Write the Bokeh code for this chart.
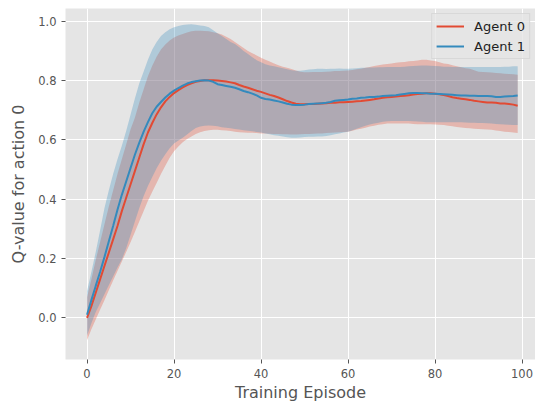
from bokeh.plotting import figure
from bokeh.embed import file_html
from bokeh.resources import INLINE
from bokeh.models import FixedTicker, PrintfTickFormatter, Range1d, Legend, LegendItem

episodes = list(range(100))

agent0_mean = [0.000, 0.040, 0.085, 0.130, 0.175, 0.220, 0.265, 0.310, 0.360, 0.405,
               0.450, 0.495, 0.540, 0.585, 0.625, 0.657, 0.686, 0.710, 0.730, 0.745,
               0.758, 0.768, 0.777, 0.785, 0.791, 0.796, 0.799, 0.801, 0.801, 0.801,
               0.800, 0.799, 0.797, 0.794, 0.791, 0.785, 0.780, 0.776, 0.771, 0.766,
               0.762, 0.757, 0.752, 0.748, 0.743, 0.737, 0.731, 0.726, 0.722, 0.720,
               0.720, 0.721, 0.721, 0.722, 0.723, 0.724, 0.725, 0.725, 0.727, 0.727,
               0.728, 0.729, 0.730, 0.731, 0.733, 0.735, 0.737, 0.740, 0.742, 0.744,
               0.745, 0.746, 0.748, 0.749, 0.751, 0.753, 0.755, 0.756, 0.757, 0.757,
               0.756, 0.754, 0.751, 0.748, 0.744, 0.741, 0.739, 0.737, 0.735, 0.732,
               0.730, 0.728, 0.726, 0.726, 0.725, 0.723, 0.723, 0.721, 0.719, 0.715]

agent0_upper = [0.070, 0.130, 0.195, 0.255, 0.315, 0.375, 0.430, 0.485, 0.535, 0.585,
                0.635, 0.675, 0.725, 0.770, 0.815, 0.850, 0.880, 0.905, 0.922, 0.935,
                0.945, 0.952, 0.957, 0.962, 0.966, 0.968, 0.968, 0.967, 0.966, 0.963,
                0.960, 0.955, 0.948, 0.940, 0.930, 0.920, 0.910, 0.900, 0.892, 0.885,
                0.877, 0.870, 0.864, 0.858, 0.852, 0.847, 0.843, 0.839, 0.834, 0.830,
                0.828, 0.828, 0.829, 0.829, 0.829, 0.830, 0.831, 0.832, 0.832, 0.833,
                0.834, 0.836, 0.838, 0.840, 0.843, 0.846, 0.849, 0.852, 0.854, 0.856,
                0.858, 0.860, 0.862, 0.863, 0.865, 0.866, 0.868, 0.870, 0.870, 0.868,
                0.866, 0.862, 0.858, 0.856, 0.852, 0.848, 0.845, 0.842, 0.840, 0.835,
                0.830, 0.829, 0.828, 0.827, 0.826, 0.825, 0.823, 0.822, 0.821, 0.820]

agent0_lower = [-0.075, -0.038, -0.005, 0.028, 0.060, 0.093, 0.126, 0.158, 0.190, 0.222,
                0.255, 0.290, 0.325, 0.360, 0.395, 0.425, 0.455, 0.485, 0.513, 0.540,
                0.562, 0.578, 0.592, 0.603, 0.612, 0.620, 0.626, 0.630, 0.633, 0.634,
                0.634, 0.633, 0.632, 0.630, 0.628, 0.626, 0.625, 0.624, 0.624, 0.623,
                0.622, 0.622, 0.621, 0.620, 0.620, 0.619, 0.619, 0.618, 0.618, 0.619,
                0.620, 0.620, 0.621, 0.622, 0.622, 0.623, 0.624, 0.625, 0.626, 0.627,
                0.628, 0.631, 0.635, 0.638, 0.641, 0.645, 0.648, 0.651, 0.653, 0.655,
                0.655, 0.655, 0.655, 0.655, 0.655, 0.654, 0.653, 0.653, 0.653, 0.653,
                0.652, 0.651, 0.650, 0.648, 0.646, 0.644, 0.642, 0.640, 0.639, 0.638,
                0.637, 0.636, 0.635, 0.634, 0.632, 0.630, 0.628, 0.627, 0.625, 0.623]

agent1_mean = [0.011, 0.060, 0.108, 0.155, 0.205, 0.258, 0.310, 0.365, 0.415, 0.460,
               0.505, 0.550, 0.590, 0.627, 0.660, 0.690, 0.712, 0.728, 0.743, 0.756,
               0.766, 0.775, 0.783, 0.790, 0.795, 0.798, 0.800, 0.801, 0.800, 0.796,
               0.788, 0.785, 0.782, 0.779, 0.776, 0.771, 0.765, 0.761, 0.756, 0.750,
               0.742, 0.738, 0.736, 0.733, 0.730, 0.726, 0.722, 0.719, 0.718, 0.718,
               0.719, 0.721, 0.722, 0.723, 0.724, 0.725, 0.728, 0.732, 0.734, 0.735,
               0.736, 0.739, 0.740, 0.742, 0.743, 0.745, 0.745, 0.746, 0.748, 0.749,
               0.750, 0.751, 0.753, 0.755, 0.757, 0.758, 0.758, 0.757, 0.757, 0.756,
               0.756, 0.755, 0.754, 0.753, 0.752, 0.751, 0.750, 0.750, 0.749, 0.749,
               0.748, 0.748, 0.748, 0.747, 0.745, 0.745, 0.746, 0.747, 0.748, 0.750]

agent1_upper = [0.090, 0.155, 0.222, 0.295, 0.370, 0.430, 0.485, 0.535, 0.580, 0.630,
                0.685, 0.740, 0.790, 0.830, 0.870, 0.905, 0.930, 0.950, 0.963, 0.973,
                0.980, 0.984, 0.987, 0.989, 0.990, 0.988, 0.986, 0.984, 0.980, 0.970,
                0.960, 0.950, 0.940, 0.930, 0.923, 0.912, 0.900, 0.890, 0.879, 0.869,
                0.862, 0.855, 0.851, 0.848, 0.845, 0.842, 0.838, 0.835, 0.833, 0.833,
                0.835, 0.837, 0.838, 0.840, 0.840, 0.839, 0.840, 0.840, 0.841, 0.840,
                0.840, 0.841, 0.842, 0.843, 0.843, 0.844, 0.844, 0.845, 0.845, 0.846,
                0.846, 0.846, 0.846, 0.847, 0.848, 0.849, 0.850, 0.851, 0.851, 0.850,
                0.849, 0.848, 0.847, 0.847, 0.846, 0.846, 0.846, 0.846, 0.846, 0.846,
                0.846, 0.846, 0.846, 0.846, 0.846, 0.846, 0.847, 0.847, 0.848, 0.848]

agent1_lower = [-0.060, -0.018, 0.020, 0.050, 0.080, 0.110, 0.140, 0.170, 0.197, 0.235,
                0.280, 0.325, 0.370, 0.410, 0.445, 0.475, 0.505, 0.530, 0.552, 0.572,
                0.588, 0.598, 0.607, 0.618, 0.630, 0.640, 0.645, 0.648, 0.649, 0.648,
                0.646, 0.643, 0.641, 0.639, 0.637, 0.635, 0.633, 0.631, 0.629, 0.627,
                0.625, 0.622, 0.619, 0.616, 0.614, 0.612, 0.609, 0.607, 0.607, 0.608,
                0.610, 0.611, 0.611, 0.612, 0.612, 0.613, 0.616, 0.619, 0.622, 0.625,
                0.628, 0.633, 0.638, 0.643, 0.648, 0.652, 0.655, 0.658, 0.661, 0.663,
                0.664, 0.664, 0.664, 0.664, 0.664, 0.663, 0.662, 0.661, 0.660, 0.660,
                0.660, 0.660, 0.660, 0.660, 0.660, 0.660, 0.660, 0.659, 0.658, 0.658,
                0.657, 0.657, 0.656, 0.655, 0.654, 0.653, 0.652, 0.651, 0.650, 0.650]

agent_labels = ["Agent 0", "Agent 1"]
x_ticks = [0, 20, 40, 60, 80, 100]
y_ticks = [0.0, 0.2, 0.4, 0.6, 0.8, 1.0]
x_label = "Training Episode"
y_label = "Q-value for action 0"

RED = "#E24A33"
BLUE = "#348ABD"
FONT = "DejaVu Sans"

p = figure(width=535, height=404, output_backend="svg", toolbar_location=None,
           x_range=Range1d(-4.95, 103.1), y_range=Range1d(-0.14, 1.043),
           min_border_left=65, min_border_right=0, min_border_top=8,
           min_border_bottom=44)
p.background_fill_color = "#E5E5E5"
p.border_fill_color = "white"
p.outline_line_color = None
p.grid.grid_line_color = "white"
p.grid.grid_line_width = 1

p.varea(x=episodes, y1=agent0_lower, y2=agent0_upper, fill_color=RED, fill_alpha=0.3)
p.varea(x=episodes, y1=agent1_lower, y2=agent1_upper, fill_color=BLUE, fill_alpha=0.3)
r0 = p.line(episodes, agent0_mean, line_color=RED, line_width=2)
r1 = p.line(episodes, agent1_mean, line_color=BLUE, line_width=2)

p.xaxis.ticker = FixedTicker(ticks=x_ticks)
p.yaxis.ticker = FixedTicker(ticks=y_ticks)
p.yaxis.formatter = PrintfTickFormatter(format="%.1f")
p.xaxis.axis_label = x_label
p.yaxis.axis_label = y_label

for ax in (p.xaxis[0], p.yaxis[0]):
    ax.axis_line_color = None
    ax.major_tick_line_color = "#555555"
    ax.major_tick_in = 0
    ax.major_tick_out = 4
    ax.minor_tick_line_color = None
    ax.major_label_text_color = "#555555"
    ax.major_label_text_font = FONT
    ax.major_label_text_font_size = "11.5px"
    ax.axis_label_text_color = "#555555"
    ax.axis_label_text_font = FONT
    ax.axis_label_text_font_size = "16px"
    ax.axis_label_text_font_style = "normal"
p.xaxis.major_label_standoff = 5
p.xaxis.axis_label_standoff = 2
p.yaxis.major_label_standoff = 5
p.yaxis.axis_label_standoff = 7

legend = Legend(items=[LegendItem(label=agent_labels[0], renderers=[r0]),
                       LegendItem(label=agent_labels[1], renderers=[r1])],
                location="top_right")
legend.label_text_font = FONT
legend.label_text_font_size = "13px"
legend.label_text_color = "#222222"
legend.glyph_width = 28
legend.glyph_height = 16
legend.label_height = 16
legend.spacing = 4
legend.padding = 4
legend.margin = 5
legend.label_standoff = 10
legend.border_line_color = "#cccccc"
legend.border_line_width = 1
legend.background_fill_color = "#E5E5E5"
legend.background_fill_alpha = 0.8
p.add_layout(legend)

open("out.html", "w").write(file_html(p, INLINE))
